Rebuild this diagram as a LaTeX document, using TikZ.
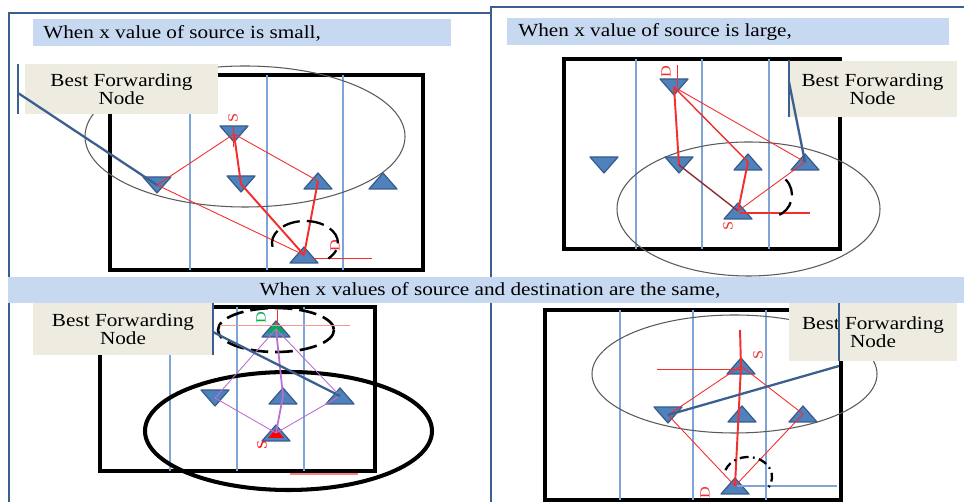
\documentclass[tikz,border=0pt]{standalone}
\usepackage{fontspec}
\setmainfont{Liberation Serif}[FakeStretch=1.15]
\definecolor{frameblue}{RGB}{59,95,143}
\definecolor{bannerblue}{RGB}{198,217,241}
\definecolor{calloutbg}{RGB}{238,236,225}
\definecolor{triblue}{RGB}{79,129,189}
\definecolor{triedge}{RGB}{56,93,138}
\definecolor{laneblue}{RGB}{125,165,215}
\definecolor{linkred}{RGB}{245,45,45}
\definecolor{linkpurple}{RGB}{190,110,210}
\definecolor{linkmaroon}{RGB}{140,45,55}
\definecolor{rangegray}{RGB}{90,90,90}
\definecolor{dstgreen}{RGB}{0,176,80}
\tikzset{
  panelframe/.style={draw=frameblue, line width=1.3pt},
  banner/.style={fill=bannerblue},
  heading/.style={inner sep=0pt, font=\fontsize{10.5}{12}\selectfont},
  fieldbox/.style={draw=black, line width=1.8pt},
  lane/.style={draw=laneblue, line width=0.8pt},
  radio range/.style={draw=rangegray, line width=0.6pt},
  link/.style={draw=linkred, line width=0.5pt},
  main link/.style={draw=linkred, line width=1.1pt},
  tag/.style={inner sep=0pt, rotate=90, font=\fontsize{8}{8}\selectfont},
  sector/.style={draw=black, line width=1.3pt, dash pattern=on 10pt off 4pt},
  callout/.style={fill=calloutbg, align=center, inner sep=0pt,
    font=\fontsize{10.5}{10.2}\selectfont},
  pointer/.style={draw=frameblue, line width=1.3pt},
  tri/.style={fill=triblue, draw=triedge, line width=0.7pt, line join=round},
  uptri/.pic={\filldraw[tri] (-14,8) -- (14,8) -- (0,-8) -- cycle;},
  dntri/.pic={\filldraw[tri] (-14,-8) -- (14,-8) -- (0,8) -- cycle;},
}

\begin{document}
\begin{tikzpicture}[x=0.02cm, y=-0.02cm]
  \fill[white] (0,0) rectangle (964,502);
  \useasboundingbox (0,0) rectangle (964,502);
  % frames and headings
  \draw[panelframe] (9,502) -- (9,13) -- (491,13);
  \draw[panelframe] (491,502) -- (491,7) -- (964,7);
  \fill[banner] (33,19) rectangle (451,46);
  \fill[banner] (507,18) rectangle (949,45);
  \node[heading, anchor=west] (head1) at (43,33) {When x value of source is small,};
  \node[heading, anchor=west] (head2) at (518,32) {When x value of source is large,};

  % panel 1: source small
  \draw[fieldbox] (110,75) rectangle (423,270);
  \foreach \x in {190,267,343}{\draw[lane] (\x,75) -- (\x,270);}
  \draw[radio range] (245,136.5) ellipse [x radius=160, y radius=70.5];
  \coordinate (p1s) at (234,134); \coordinate (p1a) at (157,185);
  \coordinate (p1b) at (241,184); \coordinate (p1c) at (318,181);
  \coordinate (p1e) at (383,181); \coordinate (p1d) at (304,255);
  \foreach \pt in {p1s,p1a,p1b}{\pic at (\pt) {dntri};}
  \foreach \pt in {p1c,p1e,p1d}{\pic at (\pt) {uptri};}
  \draw[link] (p1s) -- (p1a);
  \draw[main link] (p1s) -- (p1b);
  \draw[link] (p1s) -- (p1c);
  \draw[link] (p1a) -- (p1d);
  \draw[main link] (p1b) -- (p1d);
  \draw[main link] (p1c) -- (p1d);
  \draw[link] (p1s) ++(-1,-7) -- ++(0,20);
  \draw[link] (p1d) ++(9,3) -- ++(59,0);
  \node[tag, text=linkred] (p1sl) at (233,118) {S};
  \node[tag, text=linkred] (p1dl) at (335,246) {D};
  \draw[sector] (305,243) ++(170:33 and 22) arc[start angle=170, end angle=405, x radius=33, y radius=22];
  \node[callout, minimum width=3.86cm, minimum height=1cm] (bfn1) at (121.5,89) {Best Forwarding\\Node};
  \coordinate (bar1t) at (18,64); \coordinate (bar1b) at (18,114); \coordinate (bar1m) at (18,93);
  \draw[pointer] (bar1t) -- (bar1b);
  \draw[pointer] (bar1m) -- (p1a);

  % panel 2: source large
  \draw[fieldbox] (564,59) rectangle (840,249);
  \foreach \x in {636,702,769}{\draw[lane] (\x,59) -- (\x,249);}
  \draw[radio range] (748.5,209) ellipse [x radius=131.5, y radius=67];
  \coordinate (p2d) at (674,87); \coordinate (p2a) at (604,165);
  \coordinate (p2b) at (679,165); \coordinate (p2c) at (748,162);
  \coordinate (p2e) at (805,162); \coordinate (p2s) at (738,211);
  \foreach \pt in {p2d,p2a,p2b}{\pic at (\pt) {dntri};}
  \foreach \pt in {p2c,p2e,p2s}{\pic at (\pt) {uptri};}
  \draw[main link] (p2d) -- (p2b);
  \draw[link, line width=0.8pt] (p2d) -- (p2c);
  \draw[link] (p2d) -- (p2e);
  \draw[main link, draw=linkmaroon, line width=0.8pt] (p2b) -- (p2s);
  \draw[main link] (p2c) -- (p2s);
  \draw[link] (p2e) -- (p2s);
  \draw[link] (p2d) ++(3,-22) -- ++(0,22);
  \draw[main link, line width=0.8pt] (p2s) ++(2,2) -- ++(70,0);
  \node[tag, text=linkred] (p2dl) at (666,72) {D};
  \node[tag, text=linkred] (p2sl) at (728,226) {S};
  \draw[sector] (770,195) ++(-45:22) arc[start angle=-45, end angle=70, radius=22];
  \node[callout, minimum width=3.38cm, minimum height=1.12cm] (bfn2) at (872.5,89) {Best Forwarding\\Node};
  \coordinate (bar2t) at (789,60); \coordinate (bar2b) at (789,117); \coordinate (bar2m) at (789,82);
  \draw[pointer] (bar2t) -- (bar2b);
  \draw[pointer] (bar2m) -- (p2e);

  % middle heading
  \fill[banner] (8,277) rectangle (964,303);
  \node[heading] (head3) at (490,290) {When x values of source and destination are the same,};

  % panel 3: same x
  \draw[fieldbox] (100,307) rectangle (375,471);
  \foreach \x in {170,237,304}{\draw[lane] (\x,307) -- (\x,471);}
  \draw[sector, line width=1.5pt] (276,330) ellipse [x radius=58, y radius=22];
  \draw[draw=black, line width=2.3pt] (288.5,431) ellipse [x radius=143.5, y radius=59];
  \coordinate (p3d) at (276,329); \coordinate (p3a) at (215,398);
  \coordinate (p3b) at (283,396); \coordinate (p3c) at (340,396);
  \coordinate (p3s) at (276,433);
  \pic at (p3a) {dntri};
  \foreach \pt in {p3d,p3b,p3c,p3s}{\pic at (\pt) {uptri};}
  \fill[dstgreen] (p3d) ++(-9,4) -- ++(18,0) -- ++(-9,-10) -- cycle;
  \fill[red] (p3s) ++(-8,5) -- ++(16,0) -- ++(-8,-9) -- cycle;
  \draw[link, draw=linkpurple] (p3d) -- (p3a);
  \draw[link, draw=linkpurple, line width=1pt] (p3d) -- (p3b);
  \draw[link, draw=linkpurple] (p3d) -- (p3c);
  \draw[link, draw=linkpurple] (p3a) -- (p3s);
  \draw[link, draw=linkpurple, line width=1pt] (p3b) -- (p3s);
  \draw[link, draw=linkpurple] (p3c) -- (p3s);
  \draw[link] (p3d) ++(1,-19) -- ++(0,15);
  \draw[link, draw=linkred!50] (p3d) ++(-56,-4) -- ++(130,0);
  \draw[link, draw=linkred!60, line width=0.8pt] (290,474) -- (358,474);
  \node[tag, text=dstgreen] (p3dl) at (261,318) {D};
  \node[tag, text=red] (p3sl) at (262,445) {S};
  \node[callout, minimum width=3.6cm, minimum height=1.04cm] (bfn3) at (123,329) {Best Forwarding\\Node};
  \coordinate (bar3t) at (213,303); \coordinate (bar3b) at (213,355); \coordinate (bar3m) at (213,332);
  \draw[pointer] (bar3t) -- (bar3b);
  \draw[pointer] (bar3m) -- (p3c);

  % panel 4: same x, source above
  \draw[fieldbox] (545,310) rectangle (841,500);
  \foreach \x in {620,693,766}{\draw[lane] (\x,310) -- (\x,500);}
  \draw[radio range] (734.5,374) ellipse [x radius=142.5, y radius=59];
  \coordinate (p4s) at (741,366); \coordinate (p4a) at (668,415);
  \coordinate (p4b) at (742,414); \coordinate (p4c) at (803,414);
  \coordinate (p4d) at (735,486);
  \pic at (p4a) {dntri};
  \foreach \pt in {p4s,p4b,p4c,p4d}{\pic at (\pt) {uptri};}
  \draw[link] (p4s) -- (p4a);
  \draw[link] (p4s) -- (p4c);
  \draw[main link] (p4s) -- (p4d);
  \draw[link] (p4a) -- (p4d);
  \draw[link] (p4c) -- (p4d);
  \draw[main link] (p4s) ++(-1,-36) -- (p4s);
  \draw[link] (p4s) ++(-84,3) -- ++(86,0);
  \draw[lane, line width=0.6pt] (p4d) ++(2,0) -- ++(100,0);
  \node[tag, text=linkred] (p4sl) at (758,355) {S};
  \node[tag, text=linkred] (p4dl) at (705,493) {D};
  \draw[sector, dash pattern=on 5pt off 2.5pt on 1pt off 2.5pt] (748,477) ++(-160:24 and 20) arc[start angle=-160, end angle=40, x radius=24, y radius=20];
  \node[callout, minimum width=3.36cm, minimum height=1.16cm] (bfn4) at (873,332) {Best Forwarding\\Node};
  \coordinate (bar4t) at (839,303); \coordinate (bar4b) at (839,361); \coordinate (bar4m) at (839,366);
  \draw[pointer] (bar4t) -- (bar4b);
  \draw[pointer] (bar4m) -- (p4a);
\end{tikzpicture}
\end{document}
